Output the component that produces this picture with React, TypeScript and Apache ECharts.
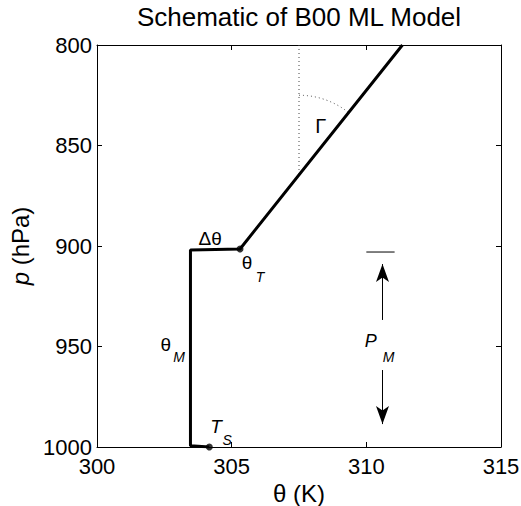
import React, { useEffect, useRef } from "react";
import * as echarts from "echarts";

// Axis ranges / ticks
const thetaTicks = [300, 305, 310, 315];
const pTicks = [800, 850, 900, 950, 1000];

// Mixed-layer profile + free troposphere (theta K, p hPa)
const profileTheta = [304.17, 303.47, 303.47, 305.31, 311.34];
const profileP = [1000, 999.4, 902, 901.5, 800];

// Marker points: T_S (surface) and theta_T (top of ML)
const markerTheta = [304.17, 305.31];
const markerP = [1000, 901.5];

// Dotted vertical reference for lapse rate Gamma
const refTheta = [307.5, 307.5];
const refP = [800, 864.6];
// Arc: centre and a point on the vertical giving its radius
const arcCentre = [307.5, 864.6];
const arcRadiusPoint = [307.5, 825];

// P_M bracket
const pmBarTheta = [310.0, 311.05];
const pmBarP = [903, 903];
const pmArrowTheta = 310.6;
const pmUpP = [936.8, 909];
const pmDownP = [961.7, 988.6];

// Annotations (text, theta, p)
const annTexts = ["Δθ", "θ", "T", "Γ", "θ", "M", "T", "S", "P", "M"];
const annTheta = [304.2, 305.57, 306.05, 308.31, 302.55, 303.05, 304.42, 304.83, 310.16, 310.83];
const annP = [896.5, 908.0, 915.4, 840.3, 949.0, 955.2, 990.0, 996.5, 947.3, 955.2];
const annSize = [19, 19, 14, 20, 19, 14, 19, 14, 18, 14];
const annItalic = [false, false, true, false, false, true, true, true, true, true];

const FONT = '"Liberation Sans", Arial, Helvetica, sans-serif';

export default function App() {
  const ref = useRef<HTMLDivElement>(null);
  useEffect(() => {
    if (!ref.current) return;
    const chart = echarts.init(ref.current, undefined, { renderer: "svg" });
    const axisCommon = {
      axisLine: { show: true, onZero: false, lineStyle: { color: "#000", width: 1 } },
      axisTick: { show: true, inside: true, length: 5, lineStyle: { color: "#000" } },
      splitLine: { show: false },
    };
    const option: any = {
      animation: false,
      backgroundColor: "#fff",
      grid: { left: 97, right: 20, top: 45, bottom: 59, containLabel: false, outerBoundsMode: "none" },
      xAxis: [
        {
          type: "value",
          min: thetaTicks[0],
          max: thetaTicks[thetaTicks.length - 1],
          interval: 5,
          position: "bottom",
          ...axisCommon,
          axisLabel: { color: "#000", fontSize: 22, fontFamily: FONT, margin: 8, formatter: (v: number) => String(v) },
          name: "θ (K)",
          nameLocation: "middle",
          nameGap: 34,
          nameTextStyle: { color: "#000", fontSize: 24, fontFamily: FONT },
        },
        {
          type: "value",
          min: thetaTicks[0],
          max: thetaTicks[thetaTicks.length - 1],
          interval: 5,
          position: "top",
          ...axisCommon,
          axisLabel: { show: false },
        },
      ],
      yAxis: [
        {
          type: "value",
          min: pTicks[0],
          max: pTicks[pTicks.length - 1],
          interval: 50,
          inverse: true,
          position: "left",
          ...axisCommon,
          axisLabel: { color: "#000", fontSize: 22, fontFamily: FONT, margin: 5, formatter: (v: number) => String(v) },
          name: "{i|p} (hPa)",
          nameLocation: "middle",
          nameGap: 62,
          nameTextStyle: {
            color: "#000",
            fontSize: 24,
            fontFamily: FONT,
            rich: { i: { fontStyle: "italic", fontSize: 24, fontFamily: FONT, color: "#000" } },
          },
        },
        {
          type: "value",
          min: pTicks[0],
          max: pTicks[pTicks.length - 1],
          interval: 50,
          inverse: true,
          position: "right",
          ...axisCommon,
          axisLabel: { show: false },
        },
      ],
      series: [
        {
          type: "line",
          data: profileTheta.map((t, i) => [t, profileP[i]]),
          symbol: "none",
          lineStyle: { color: "#000", width: 3 },
          z: 5,
        },
        {
          type: "scatter",
          data: markerTheta.map((t, i) => [t, markerP[i]]),
          symbol: "circle",
          symbolSize: 7,
          itemStyle: { color: "#000" },
          clip: false,
          z: 6,
        },
        {
          type: "line",
          data: refTheta.map((t, i) => [t, refP[i]]),
          symbol: "none",
          lineStyle: { color: "#444", width: 1, type: [1, 3] },
        },
        {
          type: "line",
          data: pmBarTheta.map((t, i) => [t, pmBarP[i]]),
          symbol: "none",
          lineStyle: { color: "#000", width: 1 },
        },
        {
          type: "lines",
          coordinateSystem: "cartesian2d",
          symbol: ["none", "arrow"],
          symbolSize: [0, [9.75, 18]],
          lineStyle: { color: "#000", width: 1, opacity: 1, curveness: 0 },
          itemStyle: { color: "#000" },
          data: [
            { coords: [[pmArrowTheta, pmUpP[0]], [pmArrowTheta, pmUpP[1]]] },
            { coords: [[pmArrowTheta, pmDownP[0]], [pmArrowTheta, pmDownP[1]]] },
          ],
        },
      ],
    };
    chart.setOption(option);

    const px = (v: number[]) => chart.convertToPixel({ seriesIndex: 0 }, v) as number[];
    const c = px(arcCentre);
    const rp = px(arcRadiusPoint);
    const r = Math.hypot(rp[0] - c[0], rp[1] - c[1]);
    const a = px([profileTheta[3], profileP[3]]);
    const b = px([profileTheta[4], profileP[4]]);
    const endAngle = Math.atan2(b[1] - a[1], b[0] - a[0]);
    const midX = (px([thetaTicks[0], 800])[0] + px([thetaTicks[thetaTicks.length - 1], 800])[0]) / 2;

    const graphics: any[] = [
      {
        type: "text",
        x: midX,
        y: 17,
        style: {
          text: "Schematic of B00 ML Model",
          fontSize: 26,
          fontFamily: FONT,
          fill: "#000",
          align: "center",
          verticalAlign: "middle",
        },
      },
      {
        type: "arc",
        shape: { cx: c[0], cy: c[1], r, startAngle: -Math.PI / 2, endAngle, clockwise: true },
        style: { stroke: "#444", lineWidth: 1, lineDash: [1, 3], fill: null },
      },
    ];
    annTexts.forEach((t, i) => {
      const p = px([annTheta[i], annP[i]]);
      graphics.push({
        type: "text",
        x: p[0],
        y: p[1],
        z: 10,
        style: {
          text: t,
          fontSize: annSize[i],
          fontStyle: annItalic[i] ? "italic" : "normal",
          fontFamily: FONT,
          fill: "#000",
          align: "center",
          verticalAlign: "middle",
        },
      });
    });
    chart.setOption({ graphic: graphics });

    return () => chart.dispose();
  }, []);
  return (
    <div
      ref={ref}
      style={{ position: "fixed", left: 0, top: 0, width: 521, height: 506, background: "#fff" }}
    />
  );
}
